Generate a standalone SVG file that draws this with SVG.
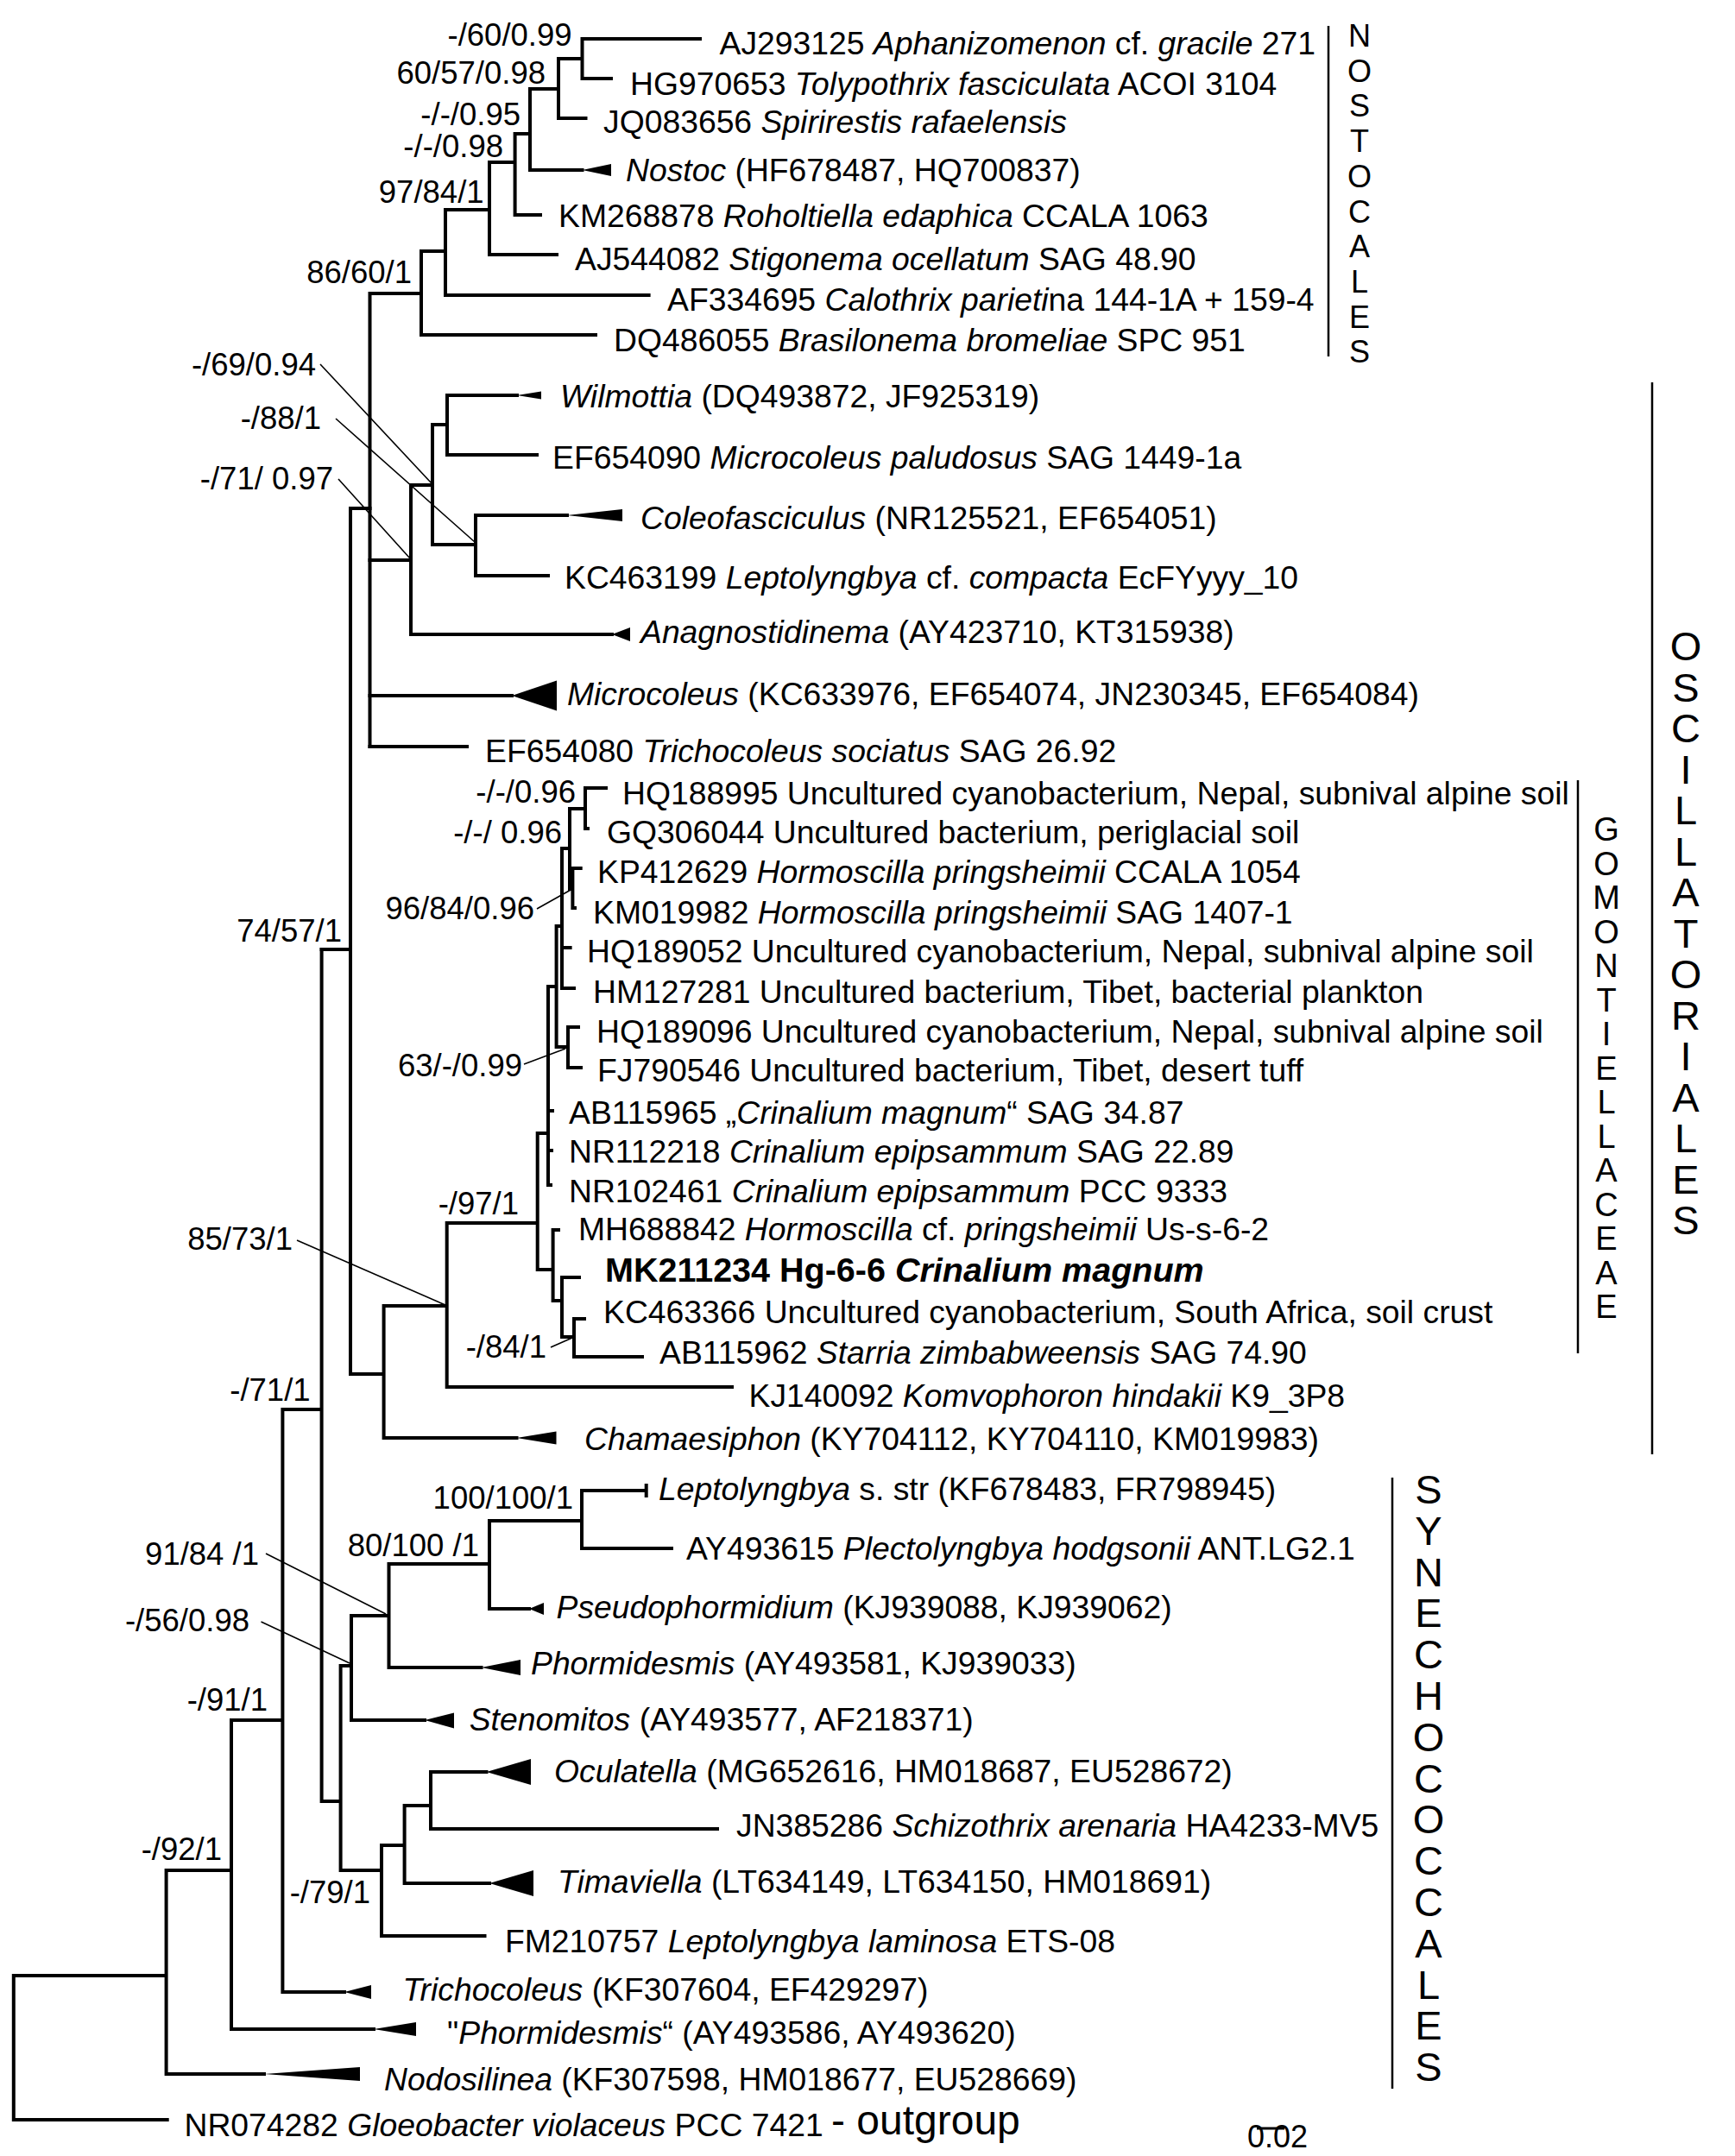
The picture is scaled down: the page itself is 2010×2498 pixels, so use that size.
<svg xmlns="http://www.w3.org/2000/svg" width="2010" height="2498" viewBox="0 0 2010 2498">
<style>
text{font-family:"Liberation Sans",Arial,sans-serif;fill:#000}
.lf{font-size:37.3px}
.bs{font-size:36.5px;text-anchor:end}
.i{font-style:italic}
.b{font-weight:bold;font-size:39.5px}
.vt{writing-mode:vertical-rl;text-orientation:upright}
.br{fill:none;stroke:#000;stroke-width:4;stroke-linecap:square}
.ld{fill:none;stroke:#000;stroke-width:1.6}
.bar{fill:none;stroke:#000;stroke-width:2.5}
.tri{fill:#000}
</style>
<rect width="2010" height="2498" fill="#fff"/>
<g id="connectors">
<path class="br" d="M674.5 45H811M674.5 91H708M674.5 45V91M647 68H674.5M647 137H678.5M647 68V137M614 103H647M614 197H674.5M614 103V197M596.6 155H614M596.6 249H626M596.6 155V249M567 188H596.6M567 295H645M567 188V295M516 243H567M516 342H751.6M516 243V342M488 291H516M488 388H690M488 291V388M428.5 340H488M428.5 340V865"/>
<path class="br" d="M518 458H599M518 527H622M518 458V527M501 492H518M501 631H551M501 492V631M551 597H657M551 667H635M551 597V667M476 562H501M476 735H709M476 562V735M428.5 649H476M428.5 806H593M428.5 865H541M406 589H428.5M406 589V1592"/>
<path class="br" d="M678 913H702M678 913V960H681M663.4 1006H672.7M663.4 1006V1052H666M660 937H678M660 1030H663.4M660 937V1030M651 983H660M651 1098H660.6M651 1145H665M651 983V1145M658 1190H670M658 1237H673M658 1190V1237M644.6 1073H651M644.6 1213H658M644.6 1073V1213M635 1143H644.6M635 1143V1373H638M635 1287H640M635 1333H639M622.7 1313H635M622.7 1313V1471H640.6M640.6 1425H647M640.6 1425V1507H651M651 1480H671M651 1480V1549H665M665 1528H677M665 1528V1572H744M517.7 1417H622.7M517.7 1417V1607H848M444.6 1513H517.7M444.6 1513V1666H598.5M406 1592H444.6M372.6 1100H406"/>
<path class="br" d="M372.6 1100V2087H394.6M327.4 1633H372.6M674 1727H748.7M748.7 1721V1733M674 1727V1794H778M567 1762H674M567 1762V1864H613M450.5 1812H567M450.5 1812V1932H557.5M407 1872H450.5M407 1872V1993H492M394.6 1930H407M394.6 1930V2167H442M442 2138H468.6M442 2138V2243H561.5M468.6 2092H499M468.6 2092V2182H567M499 2053H563.5M499 2053V2119H831M327.4 1633V2308H399M268 1993H327.4M268 1993V2351H433M192.6 2167H268M192.6 2167V2403H306M15.8 2289H192.6M15.8 2289V2456H193.7"/>
<path class="ld" d="M371 422L500 560M389 485L550 628M392 555L475 647M622 1053L663 1030M607 1233L655 1215M344 1437L516 1512M638 1561L663 1550M308 1800L447 1870M302.5 1879L405 1927"/>
</g>
<g id="support">
<text class="bs" x="662.6" y="53">-/60/0.99</text>
<text class="bs" x="632" y="97">60/57/0.98</text>
<text class="bs" x="603" y="145">-/-/0.95</text>
<text class="bs" x="583" y="182">-/-/0.98</text>
<text class="bs" x="560.6" y="235">97/84/1</text>
<text class="bs" x="477" y="328">86/60/1</text>
<text class="bs" x="366" y="435">-/69/0.94</text>
<text class="bs" x="372" y="497">-/88/1</text>
<text class="bs" x="386" y="567">-/71/ 0.97</text>
<text class="bs" x="396" y="1091">74/57/1</text>
<text class="bs" x="667" y="930">-/-/0.96</text>
<text class="bs" x="651" y="977">-/-/ 0.96</text>
<text class="bs" x="619" y="1065">96/84/0.96</text>
<text class="bs" x="605" y="1247">63/-/0.99</text>
<text class="bs" x="601" y="1407">-/97/1</text>
<text class="bs" x="339" y="1448">85/73/1</text>
<text class="bs" x="633" y="1573">-/84/1</text>
<text class="bs" x="359.6" y="1623">-/71/1</text>
<text class="bs" x="664" y="1748">100/100/1</text>
<text class="bs" x="555" y="1803">80/100 /1</text>
<text class="bs" x="300" y="1813">91/84 /1</text>
<text class="bs" x="289" y="1890">-/56/0.98</text>
<text class="bs" x="310" y="1982">-/91/1</text>
<text class="bs" x="257" y="2155">-/92/1</text>
<text class="bs" x="429" y="2205">-/79/1</text>
</g>
<g id="n01"><text class="lf" x="833.5" y="63">AJ293125 <tspan class="i">Aphanizomenon</tspan> cf. <tspan class="i">gracile</tspan> 271</text></g>
<g id="n02"><text class="lf" x="730" y="110">HG970653 <tspan class="i">Tolypothrix fasciculata</tspan> ACOI 3104</text></g>
<g id="n03"><text class="lf" x="699" y="154">JQ083656 <tspan class="i">Spirirestis rafaelensis</tspan></text></g>
<g id="n04"><polygon class="tri" points="674.5,197 708,190 708,204"/><text class="lf" x="725" y="210"><tspan class="i">Nostoc</tspan> (HF678487, HQ700837)</text></g>
<g id="n05"><text class="lf" x="647" y="263">KM268878 <tspan class="i">Roholtiella edaphica</tspan> CCALA 1063</text></g>
<g id="n06"><text class="lf" x="666" y="313">AJ544082 <tspan class="i">Stigonema ocellatum</tspan> SAG 48.90</text></g>
<g id="n07"><text class="lf" x="773" y="360">AF334695 <tspan class="i">Calothrix parieti</tspan>na 144-1A + 159-4</text></g>
<g id="n08"><text class="lf" x="711" y="407">DQ486055 <tspan class="i">Brasilonema bromeliae</tspan> SPC 951</text></g>
<g id="n09"><polygon class="tri" points="599,458 627,453.5 627,462.5"/><text class="lf" x="649" y="472"><tspan class="i">Wilmottia</tspan> (DQ493872, JF925319)</text></g>
<g id="n10"><text class="lf" x="640" y="543">EF654090 <tspan class="i">Microcoleus paludosus</tspan> SAG 1449-1a</text></g>
<g id="n11"><polygon class="tri" points="657,597 721,590 721,604"/><text class="lf" x="742" y="613"><tspan class="i">Coleofasciculus</tspan> (NR125521, EF654051)</text></g>
<g id="n12"><text class="lf" x="654" y="682">KC463199 <tspan class="i">Leptolyngbya</tspan> cf. <tspan class="i">compacta</tspan> EcFYyyy_10</text></g>
<g id="n13"><polygon class="tri" points="709,735 730,727 730,743"/><text class="lf" x="742" y="745"><tspan class="i">Anagnostidinema</tspan> (AY423710, KT315938)</text></g>
<g id="n14"><polygon class="tri" points="593,806 645,788.5 645,823.5"/><text class="lf" x="657" y="817"><tspan class="i">Microcoleus</tspan> (KC633976, EF654074, JN230345, EF654084)</text></g>
<g id="n15"><text class="lf" x="562" y="883">EF654080 <tspan class="i">Trichocoleus sociatus</tspan> SAG 26.92</text></g>
<g id="n16"><text class="lf" x="721" y="932">HQ188995 Uncultured cyanobacterium, Nepal, subnival alpine soil</text></g>
<g id="n17"><text class="lf" x="703" y="977">GQ306044 Uncultured bacterium, periglacial soil</text></g>
<g id="n18"><text class="lf" x="692" y="1023">KP412629 <tspan class="i">Hormoscilla pringsheimii</tspan> CCALA 1054</text></g>
<g id="n19"><text class="lf" x="687" y="1070">KM019982 <tspan class="i">Hormoscilla pringsheimii</tspan> SAG 1407-1</text></g>
<g id="n20"><text class="lf" x="680" y="1115">HQ189052 Uncultured cyanobacterium, Nepal, subnival alpine soil</text></g>
<g id="n21"><text class="lf" x="687" y="1162">HM127281 Uncultured bacterium, Tibet, bacterial plankton</text></g>
<g id="n22"><text class="lf" x="691" y="1208">HQ189096 Uncultured cyanobacterium, Nepal, subnival alpine soil</text></g>
<g id="n23"><text class="lf" x="692" y="1253">FJ790546 Uncultured bacterium, Tibet, desert tuff</text></g>
<g id="n24"><text class="lf" x="659" y="1302">AB115965 „<tspan class="i">Crinalium magnum</tspan>“ SAG 34.87</text></g>
<g id="n25"><text class="lf" x="659" y="1347">NR112218 <tspan class="i">Crinalium epipsammum</tspan> SAG 22.89</text></g>
<g id="n26"><text class="lf" x="659" y="1393">NR102461 <tspan class="i">Crinalium epipsammum</tspan> PCC 9333</text></g>
<g id="n27"><text class="lf" x="670" y="1437">MH688842 <tspan class="i">Hormoscilla</tspan> cf. <tspan class="i">pringsheimii</tspan> Us-s-6-2</text></g>
<g id="n28"><text class="b" x="701" y="1485">MK211234 Hg-6-6 <tspan class="i">Crinalium magnum</tspan></text></g>
<g id="n29"><text class="lf" x="699" y="1533">KC463366 Uncultured cyanobacterium, South Africa, soil crust</text></g>
<g id="n30"><text class="lf" x="764" y="1580">AB115962 <tspan class="i">Starria zimbabweensis</tspan> SAG 74.90</text></g>
<g id="n31"><text class="lf" x="867.5" y="1630">KJ140092 <tspan class="i">Komvophoron hindakii</tspan> K9_3P8</text></g>
<g id="n32"><polygon class="tri" points="598.5,1666 644.5,1658.5 644.5,1673.5"/><text class="lf" x="677" y="1680"><tspan class="i">Chamaesiphon</tspan> (KY704112, KY704110, KM019983)</text></g>
<g id="n33"><text class="lf" x="763" y="1738"><tspan class="i">Leptolyngbya</tspan> s. str (KF678483, FR798945)</text></g>
<g id="n34"><text class="lf" x="795" y="1807">AY493615 <tspan class="i">Plectolyngbya hodgsonii</tspan> ANT.LG2.1</text></g>
<g id="n35"><polygon class="tri" points="613,1864 630,1857 630,1871"/><text class="lf" x="644.5" y="1875"><tspan class="i">Pseudophormidium</tspan> (KJ939088, KJ939062)</text></g>
<g id="n36"><polygon class="tri" points="557.5,1932 603,1923 603,1941"/><text class="lf" x="615" y="1940"><tspan class="i">Phormidesmis</tspan> (AY493581, KJ939033)</text></g>
<g id="n37"><polygon class="tri" points="492,1993 526,1984.5 526,2002.5"/><text class="lf" x="543.7" y="2005"><tspan class="i">Stenomitos</tspan> (AY493577, AF218371)</text></g>
<g id="n38"><polygon class="tri" points="563.5,2053 615,2038 615,2068"/><text class="lf" x="642" y="2065"><tspan class="i">Oculatella</tspan> (MG652616, HM018687, EU528672)</text></g>
<g id="n39"><text class="lf" x="853" y="2128">JN385286 <tspan class="i">Schizothrix arenaria</tspan> HA4233-MV5</text></g>
<g id="n40"><polygon class="tri" points="567,2182 618,2167 618,2197"/><text class="lf" x="646" y="2193"><tspan class="i">Timaviella</tspan> (LT634149, LT634150, HM018691)</text></g>
<g id="n41"><text class="lf" x="585" y="2262">FM210757 <tspan class="i">Leptolyngbya laminosa</tspan> ETS-08</text></g>
<g id="n42"><polygon class="tri" points="399,2308 430,2300 430,2316"/><text class="lf" x="466.6" y="2318"><tspan class="i">Trichocoleus</tspan> (KF307604, EF429297)</text></g>
<g id="n43"><polygon class="tri" points="433,2351 482,2343 482,2359"/><text class="lf" x="518" y="2368">"<tspan class="i">Phormidesmis</tspan>“ (AY493586, AY493620)</text></g>
<g id="n44"><polygon class="tri" points="306,2403 417,2395 417,2411"/><text class="lf" x="445" y="2422"><tspan class="i">Nodosilinea</tspan> (KF307598, HM018677, EU528669)</text></g>
<g id="n45"><text class="lf" x="213.5" y="2475">NR074282 <tspan class="i">Gloeobacter violaceus</tspan> PCC 7421</text><text x="963" y="2473" style="font-size:48px">- outgroup</text></g>
<g id="clade-nostocales">
<line class="bar" x1="1539" y1="30" x2="1539" y2="413"/>
<text class="vt" x="1575" y="21" style="font-size:36px;letter-spacing:-0.3px">NOSTOCALES</text>
</g>
<g id="clade-oscillatoriales">
<line class="bar" x1="1914" y1="443" x2="1914" y2="1685"/>
<text class="vt" x="1953" y="722" style="font-size:47px;letter-spacing:-5.5px">OSCILLATORIALES</text>
</g>
<g id="clade-gomontiellaceae">
<line class="bar" x1="1828" y1="904" x2="1828" y2="1568"/>
<text class="vt" x="1861" y="940" style="font-size:38px;letter-spacing:-2.5px">GOMONTIELLACEAE</text>
</g>
<g id="clade-synechococcales">
<line class="bar" x1="1613" y1="1712" x2="1613" y2="2420"/>
<text class="vt" x="1655" y="1699" style="font-size:47px;letter-spacing:-5.2px">SYNECHOCOCCALES</text>
</g>
<g id="scale">
<line x1="1456" y1="2466" x2="1488" y2="2466" stroke="#000" stroke-width="3"/>
<text x="1480" y="2488" style="font-size:36px;text-anchor:middle">0.02</text>
</g>
</svg>
